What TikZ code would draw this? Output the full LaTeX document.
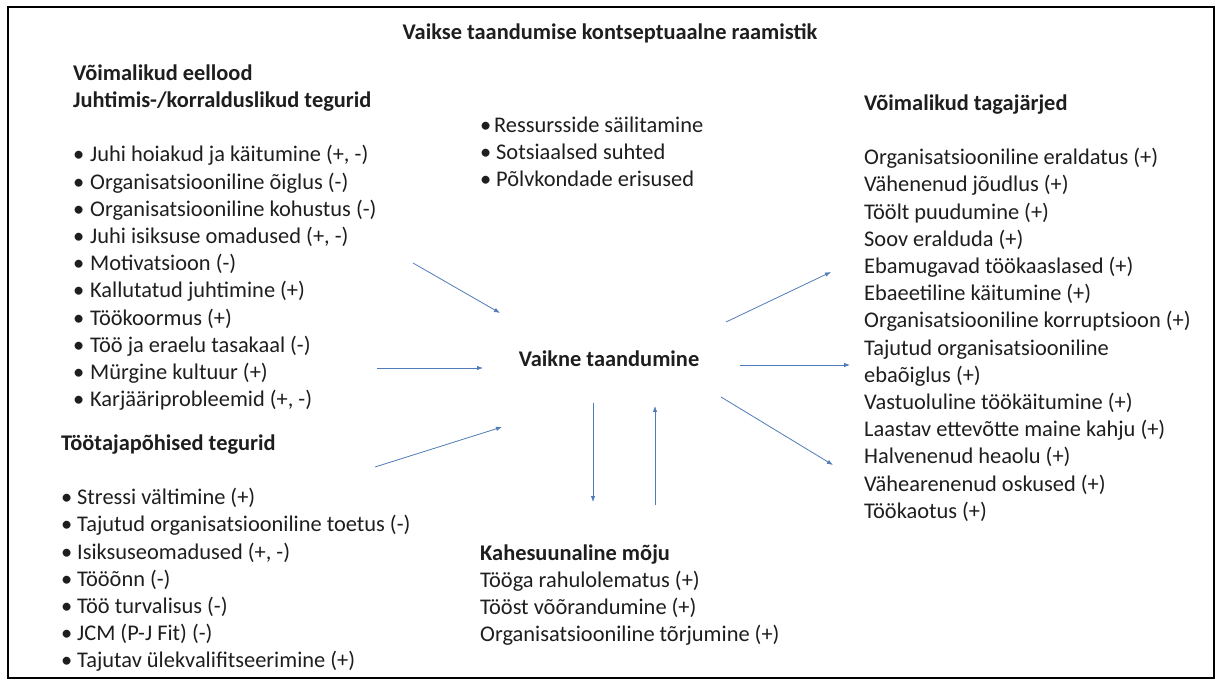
\documentclass[tikz,border=0pt]{standalone}
\usepackage{fontspec}
\setmainfont{Carlito}
\usetikzlibrary{arrows.meta}
\definecolor{arrowblue}{RGB}{79,124,184}
\definecolor{textgray}{RGB}{30,30,30}
\newcommand{\bA}{\makebox[17pt][l]{•}}
\newcommand{\bB}{\makebox[16pt][l]{•}}
\newcommand{\bC}{\makebox[14pt][l]{•}}
\newcommand{\bD}{\makebox[16pt][l]{•}}
\begin{document}
\begin{tikzpicture}[x=1pt,y=-1pt,
  block/.style={anchor=north west,inner sep=0pt,align=left,text=textgray,
    font=\fontsize{22.4}{27.2}\selectfont},
  single/.style={anchor=base,inner sep=0pt,text=textgray,
    font=\fontsize{22.4}{27.2}\selectfont\bfseries},
  conn/.style={draw=arrowblue,line width=0.8pt,-{Latex[length=6pt,width=4.5pt]}}]
\useasboundingbox (0,0) rectangle (1221,684);
\fill[white] (0,0) rectangle (1221,684);
\draw[line width=1.6pt] (8,7) rectangle (1214,678);

\node[single] (title) at (610,40) {Vaikse taandumise kontseptuaalne raamistik};
\node[single] (core) at (609,367) {Vaikne taandumine};

\node[block] (left1) at (73,61) {\strut\textbf{Võimalikud eellood}\\
\strut\textbf{Juhtimis-/korralduslikud tegurid}\\
\strut\\
\strut\bA Juhi hoiakud ja käitumine (+, -)\\
\strut\bA Organisatsiooniline õiglus (-)\\
\strut\bA Organisatsiooniline kohustus (-)\\
\strut\bA Juhi isiksuse omadused (+, -)\\
\strut\bA Motivatsioon (-)\\
\strut\bA Kallutatud juhtimine (+)\\
\strut\bA Töökoormus (+)\\
\strut\bA Töö ja eraelu tasakaal (-)\\
\strut\bA Mürgine kultuur (+)\\
\strut\bA Karjääriprobleemid (+, -)};

\node[block] (left2) at (61,431) {\strut\textbf{Töötajapõhised tegurid}\\
\strut\\
\strut\bB Stressi vältimine (+)\\
\strut\bB Tajutud organisatsiooniline toetus (-)\\
\strut\bB Isiksuseomadused (+, -)\\
\strut\bB Tööõnn (-)\\
\strut\bB Töö turvalisus (-)\\
\strut\bB JCM (P-J Fit) (-)\\
\strut\bB Tajutav ülekvalifitseerimine (+)};

\node[block] (mod) at (480,113) {\strut\bC Ressursside säilitamine\\
\strut\bD Sotsiaalsed suhted\\
\strut\bD Põlvkondade erisused};

\node[block] (right) at (864,91) {\strut\textbf{Võimalikud tagajärjed}\\
\strut\\
\strut Organisatsiooniline eraldatus (+)\\
\strut Vähenenud jõudlus (+)\\
\strut Töölt puudumine (+)\\
\strut Soov eralduda (+)\\
\strut Ebamugavad töökaaslased (+)\\
\strut Ebaeetiline käitumine (+)\\
\strut Organisatsiooniline korruptsioon (+)\\
\strut Tajutud organisatsiooniline\\
\strut ebaõiglus (+)\\
\strut Vastuoluline töökäitumine (+)\\
\strut Laastav ettevõtte maine kahju (+)\\
\strut Halvenenud heaolu (+)\\
\strut Vähearenenud oskused (+)\\
\strut Töökaotus (+)};

\node[block] (bidir) at (480,541) {\strut\textbf{Kahesuunaline mõju}\\
\strut Tööga rahulolematus (+)\\
\strut Tööst võõrandumine (+)\\
\strut Organisatsiooniline tõrjumine (+)};

\coordinate (a1s) at (413,263); \coordinate (a1e) at (500,313);
\coordinate (a2s) at (377,368); \coordinate (a2e) at (483,368);
\coordinate (a3s) at (375,467); \coordinate (a3e) at (502,427);
\coordinate (dns) at (593,403); \coordinate (dne) at (593,502);
\coordinate (ups) at (655,505); \coordinate (upe) at (655,406);
\coordinate (r1s) at (726,322); \coordinate (r1e) at (831,272);
\coordinate (r2s) at (740,365); \coordinate (r2e) at (850,365);
\coordinate (r3s) at (721,397); \coordinate (r3e) at (833,465);

\draw[conn] (a1s) -- (a1e);
\draw[conn] (a2s) -- (a2e);
\draw[conn] (a3s) -- (a3e);
\draw[conn] (dns) -- (dne);
\draw[conn] (ups) -- (upe);
\draw[conn] (r1s) -- (r1e);
\draw[conn] (r2s) -- (r2e);
\draw[conn] (r3s) -- (r3e);
\end{tikzpicture}
\end{document}
